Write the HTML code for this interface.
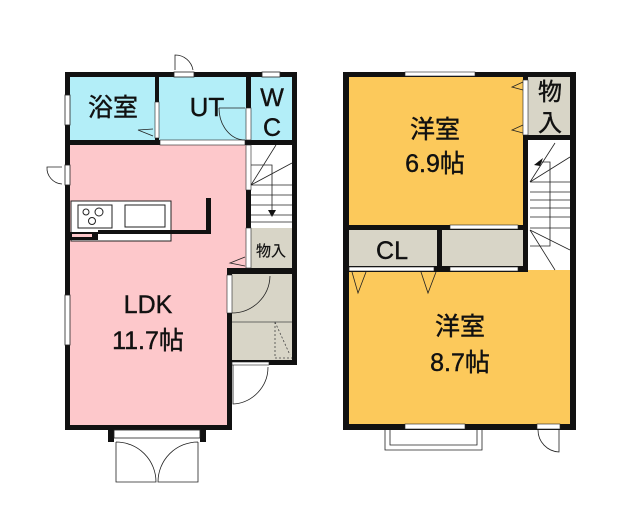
<!DOCTYPE html>
<html><head><meta charset="utf-8"><style>
html,body{margin:0;padding:0;background:#fff;}
svg{display:block;}
text{font-family:"Liberation Sans","Noto Sans CJK JP",sans-serif;fill:#111;stroke:#111;stroke-width:0.4;}
</style></head><body>
<svg width="640" height="512" viewBox="0 0 640 512" xmlns="http://www.w3.org/2000/svg">
<!-- LEFT PLAN fills -->
<rect x="68" y="75" width="228" height="68" fill="#b3eef8"/>
<rect x="68" y="143" width="180" height="127" fill="#fdc8cb"/>
<rect x="68" y="143" width="162" height="284" fill="#fdc8cb"/>
<rect x="249" y="143" width="46" height="85" fill="#fff"/>
<rect x="249" y="228" width="46" height="42" fill="#d8d5c7"/>
<rect x="230" y="272" width="65" height="90" fill="#d8d5c7"/>
<!-- kitchen counter -->
<rect x="71" y="201" width="100" height="40" fill="#fff" stroke="#222" stroke-width="1"/>
<rect x="78" y="205" width="34" height="23" fill="#fff" stroke="#222" stroke-width="1"/>
<circle cx="86" cy="212" r="3" fill="none" stroke="#222"/>
<circle cx="99" cy="212" r="4" fill="none" stroke="#222"/>
<circle cx="92" cy="221" r="3.5" fill="none" stroke="#222"/>
<rect x="125" y="205" width="40" height="22" fill="#fff" stroke="#222" stroke-width="1"/>
<rect x="68" y="232" width="30" height="8" fill="#111"/>
<rect x="72" y="234" width="20" height="3" fill="#fdc8cb"/>
<rect x="98" y="230" width="110" height="4" fill="#111"/>
<rect x="206" y="198" width="5" height="36" fill="#111"/>
<!-- walls left -->
<g fill="#111">
<rect x="65" y="72" width="232" height="5"/>
<rect x="65" y="72" width="5" height="358"/>
<rect x="65" y="425" width="167" height="5"/>
<rect x="292" y="72" width="5" height="200"/>
<rect x="155" y="72" width="4" height="72"/>
<rect x="246" y="72" width="5" height="72"/>
<rect x="65" y="140" width="232" height="5"/>
<rect x="246" y="140" width="5" height="130"/>
<rect x="227" y="268" width="70" height="6"/>
<rect x="227" y="268" width="5" height="162"/>
<rect x="292" y="268" width="5" height="97"/>
<rect x="232" y="360" width="65" height="5"/>
<rect x="108" y="428" width="6" height="14"/>
<rect x="200" y="428" width="6" height="14"/>
</g>
<!-- openings left -->
<rect x="174" y="72" width="20" height="5" fill="#fff" stroke="#222" stroke-width="0.8"/>
<path d="M175 70 V55 A18 18 0 0 1 193 70" fill="none" stroke="#222" stroke-width="0.8"/>
<rect x="262" y="72" width="18" height="5" fill="#fff" stroke="#222" stroke-width="0.8"/>
<rect x="65" y="95" width="5" height="30" fill="#fff" stroke="#222" stroke-width="0.8"/>
<rect x="65" y="165" width="5" height="20" fill="#fff" stroke="#222" stroke-width="0.8"/>
<path d="M62 167 H47 A16 16 0 0 0 62 184" fill="none" stroke="#222" stroke-width="0.8"/>
<rect x="65" y="295" width="5" height="50" fill="#fff" stroke="#222" stroke-width="0.8"/>
<rect x="155" y="102" width="4" height="36" fill="#fff" stroke="#222" stroke-width="0.6"/>
<rect x="246" y="108" width="5" height="32" fill="#fff" stroke="#222" stroke-width="0.6"/>
<rect x="160" y="140" width="85" height="5" fill="#fff" stroke="#222" stroke-width="0.6"/>
<path d="M219 108 H245 M219 108 A26 32 0 0 0 245 140" fill="none" stroke="#222" stroke-width="0.8"/>
<path d="M153 129 L138 130 L153 136" fill="none" stroke="#222" stroke-width="0.8"/>
<rect x="246" y="145" width="5" height="45" fill="#fff" stroke="#222" stroke-width="0.6"/>
<rect x="246" y="228" width="5" height="40" fill="#fff" stroke="#222" stroke-width="0.6"/>
<path d="M245 257 L230 263 L245 266" fill="none" stroke="#222" stroke-width="0.8"/>
<!-- stairs -->
<g stroke="#222" stroke-width="0.8" fill="none">
<path d="M251 185 L276 145 M251 185 L292 163 M251 185 H292"/>
<path d="M251 195 H292 M251 205 H292 M251 215 H292 M251 222 H292"/>
<path d="M251 165 H272 V212"/>
</g>
<path d="M268 210 L276 210 L272 217 Z" fill="#111"/>
<!-- storage -->
<rect x="227" y="275" width="5" height="38" fill="#fff" stroke="#222" stroke-width="0.6"/>
<path d="M232 313 A38 38 0 0 0 270 276" fill="none" stroke="#222" stroke-width="0.8"/>
<path d="M232 322 H292" stroke="#444" stroke-width="0.8"/>
<path d="M275 322 V358 H292 M275 322 L290 355" fill="none" stroke="#444" stroke-width="0.8" stroke-dasharray="2,2"/>
<rect x="232" y="362" width="37" height="3" fill="#fff" stroke="#222" stroke-width="0.6"/>
<path d="M233 365 V404 A37 37 0 0 0 268 367" fill="none" stroke="#222" stroke-width="0.8"/>
<!-- porch -->
<rect x="114" y="430" width="86" height="8" fill="#fff" stroke="#222" stroke-width="0.8"/>
<path d="M116 442 V482 H156 A40 40 0 0 0 116 442 M198 442 V482 H158 A40 40 0 0 1 198 442" fill="none" stroke="#222" stroke-width="0.8"/>
<!-- labels left -->
<text x="113" y="116" font-size="25" text-anchor="middle">浴室</text>
<text x="207" y="116" font-size="26" text-anchor="middle">UT</text>
<text x="272" y="106" font-size="25" text-anchor="middle">W</text>
<text x="272" y="136" font-size="25" text-anchor="middle">C</text>
<text x="271" y="256" font-size="15" text-anchor="middle" style="stroke-width:0.2">物入</text>
<text x="148" y="313" font-size="25" text-anchor="middle">LDK</text>
<text x="148" y="349" font-size="25" text-anchor="middle">11.7帖</text>

<!-- RIGHT PLAN fills -->
<rect x="346" y="75" width="228" height="352" fill="#fcc95b"/>
<rect x="525" y="75" width="48" height="63" fill="#d8d5c7"/>
<rect x="528" y="138" width="45" height="132" fill="#fff"/>
<rect x="346" y="228" width="182" height="42" fill="#d8d5c7"/>
<g fill="#111">
<rect x="343" y="72" width="233" height="5"/>
<rect x="343" y="72" width="6" height="358"/>
<rect x="570" y="72" width="6" height="358"/>
<rect x="343" y="424" width="233" height="6"/>
<rect x="523" y="72" width="5" height="200"/>
<rect x="523" y="135" width="53" height="5"/>
<rect x="343" y="225" width="185" height="5"/>
<rect x="343" y="266" width="185" height="6"/>
<rect x="437" y="225" width="5" height="45"/>
</g>
<rect x="405" y="72" width="70" height="4" fill="#fff" stroke="#222" stroke-width="0.6"/>
<rect x="523" y="80" width="5" height="55" fill="#fff" stroke="#222" stroke-width="0.6"/>
<path d="M523 82 L512 87 L523 90 M523 125 L512 130 L523 133" fill="none" stroke="#222" stroke-width="0.8"/>
<rect x="450" y="225" width="68" height="4" fill="#fff" stroke="#222" stroke-width="0.6"/>
<rect x="450" y="267" width="68" height="4" fill="#fff" stroke="#222" stroke-width="0.6"/>
<rect x="349" y="267" width="85" height="4" fill="#fff" stroke="#222" stroke-width="0.6"/>
<path d="M352 272 L358 293 L366 272 M421 272 L428 293 L436 272" fill="none" stroke="#222" stroke-width="0.8"/>
<!-- stairs right -->
<g stroke="#222" stroke-width="0.8" fill="none">
<path d="M530 182 L555 143 M530 182 L570 157 M530 182 H570"/>
<path d="M530 192 H570 M530 200 H570 M530 208 H570 M530 217 H570 M530 228 H570"/>
<path d="M530 230 L555 270 M530 230 L570 250"/>
<path d="M538 162 H550 V246 H530"/>
</g>
<path d="M534 165 L543 158 L540 166 Z" fill="#111"/>
<!-- bay window -->
<rect x="405" y="424" width="60" height="5" fill="#fff" stroke="#222" stroke-width="0.6"/>
<path d="M385 430 V450 H482 V430 M390 430 V445 H477 V430" fill="none" stroke="#222" stroke-width="0.8"/>
<rect x="537" y="424" width="23" height="5" fill="#fff" stroke="#222" stroke-width="0.6"/>
<path d="M538 430 A22 22 0 0 0 559 452 V430" fill="none" stroke="#222" stroke-width="0.8"/>
<!-- labels right -->
<text x="435" y="138" font-size="25" text-anchor="middle">洋室</text>
<text x="435" y="172" font-size="25" text-anchor="middle">6.9帖</text>
<text x="550" y="100" font-size="24" text-anchor="middle">物</text>
<text x="550" y="131" font-size="24" text-anchor="middle">入</text>
<text x="392" y="259" font-size="25" text-anchor="middle">CL</text>
<text x="460" y="335" font-size="25" text-anchor="middle">洋室</text>
<text x="460" y="371" font-size="25" text-anchor="middle">8.7帖</text>
</svg>
</body></html>
